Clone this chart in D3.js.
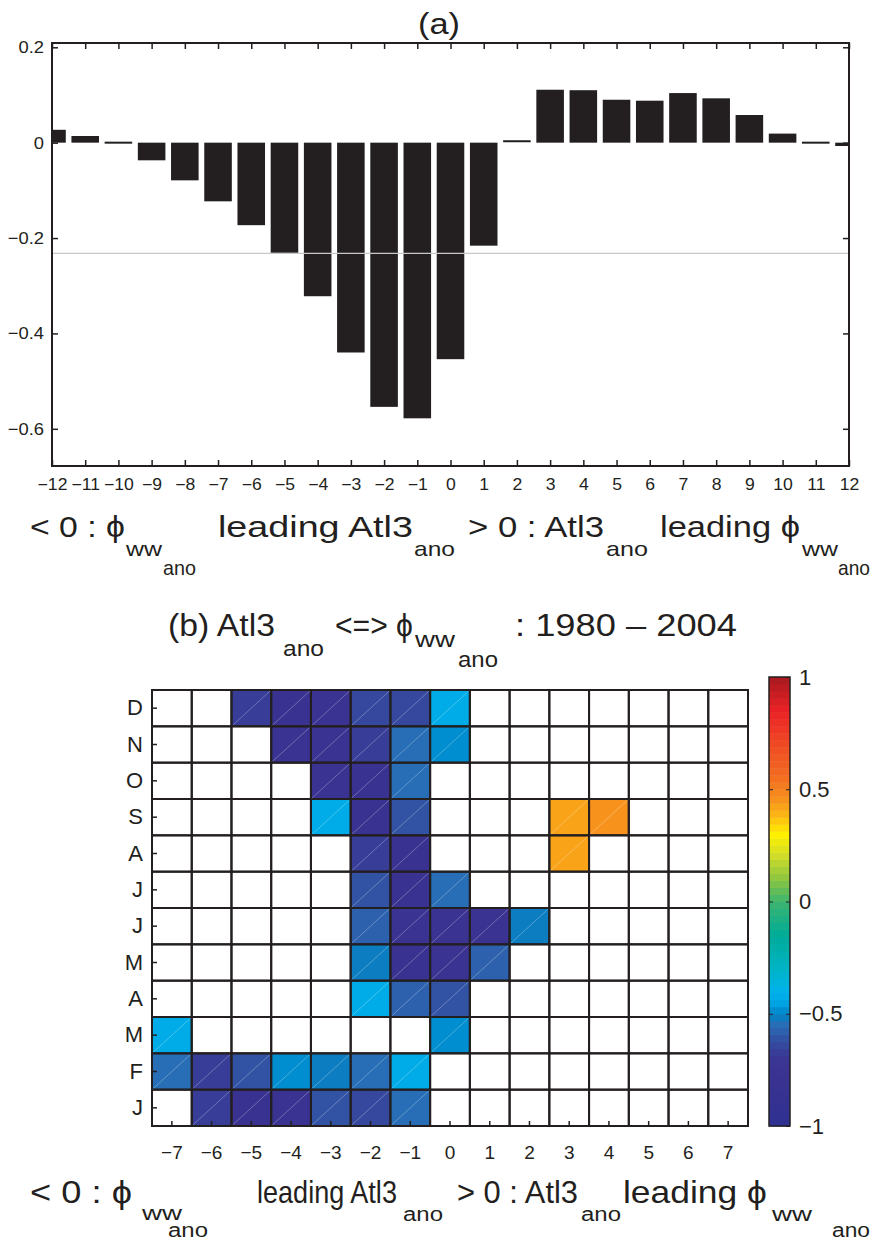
<!DOCTYPE html>
<html>
<head>
<meta charset="utf-8">
<script src="https://cdn.jsdelivr.net/npm/d3@7"></script>
<style>
  body { margin: 0; background: #fff; }
  svg text { font-family: "Liberation Sans", Arial, sans-serif; fill: #231f20; }
</style>
</head>
<body>
<script>
// ---- panel (a) data: lagged correlation ----
var lagsA = [-12, -11, -10, -9, -8, -7, -6, -5, -4, -3, -2, -1, 0,
             1, 2, 3, 4, 5, 6, 7, 8, 9, 10, 11, 12];
var corrA = [0.027, 0.014, -0.003, -0.037, -0.079, -0.123, -0.173, -0.231, -0.322, -0.440, -0.554, -0.578, -0.454,
             -0.216, 0.003, 0.111, 0.110, 0.090, 0.088, 0.104, 0.093, 0.058, 0.019, -0.002, -0.007];
var signifA = -0.232;
var yTicksA = [-0.6, -0.4, -0.2, 0, 0.2];

// ---- panel (b) data: monthly lagged correlation (null = not significant) ----
var lagsB = [-7, -6, -5, -4, -3, -2, -1, 0, 1, 2, 3, 4, 5, 6, 7];
var months = ["J", "F", "M", "A", "M", "J", "J", "A", "S", "O", "N", "D"];
var _ = null;
var jan = [_, -0.68, -0.8, -0.78, -0.6, -0.63, -0.55, _, _, _, _, _, _, _, _];
var feb = [-0.55, -0.68, -0.6, -0.5, -0.53, -0.55, -0.42, _, _, _, _, _, _, _, _];
var mar = [-0.42, _, _, _, _, _, _, -0.5, _, _, _, _, _, _, _];
var apr = [_, _, _, _, _, -0.42, -0.57, -0.61, _, _, _, _, _, _, _];
var may = [_, _, _, _, _, -0.53, -0.8, -0.78, -0.57, _, _, _, _, _, _];
var jun = [_, _, _, _, _, -0.57, -0.78, -0.78, -0.78, -0.53, _, _, _, _, _];
var jul = [_, _, _, _, _, -0.62, -0.8, -0.55, _, _, _, _, _, _, _];
var aug = [_, _, _, _, _, -0.68, -0.8, _, _, _, 0.43, _, _, _, _];
var sep = [_, _, _, _, -0.42, -0.8, -0.61, _, _, _, 0.42, 0.46, _, _, _];
var oct = [_, _, _, _, -0.76, -0.8, -0.56, _, _, _, _, _, _, _, _];
var nov = [_, _, _, -0.78, -0.78, -0.68, -0.54, -0.5, _, _, _, _, _, _, _];
var dec = [_, _, -0.68, -0.8, -0.78, -0.63, -0.64, -0.42, _, _, _, _, _, _, _];
var corrB = [jan, feb, mar, apr, may, jun, jul, aug, sep, oct, nov, dec];
var cbTicks = [-1, -0.5, 0, 0.5, 1];

// colormap stops
var cmapVals = [-1, -0.8, -0.7, -0.65, -0.6, -0.55, -0.5, -0.45, -0.4, -0.3, -0.15, 0,
                0.1, 0.2, 0.3, 0.38, 0.45, 0.55, 0.7, 0.85, 1];
var cmapCols = ["#2e3192", "#3a3290", "#3b3593", "#36449c", "#3157a6", "#2a6db5", "#0084c8", "#00a5e3",
                "#00b2ec", "#00b4c6", "#00ab98", "#3db56f", "#8cc540", "#cddb2a", "#fff200", "#fdb913",
                "#f7941d", "#f36f21", "#ef4a24", "#ec2227", "#a6191e"];

let W = 873, H = 1244;
let ink = "#231f20";
let minus = function(s) { return String(s).replace("-", "\u2212"); };

let svg = d3.select("body").append("svg")
  .attr("width", W).attr("height", H);

// label made of several pieces, each scaled sideways to the measured width
function drawLabel(segs) {
  svg.append("g").selectAll("text")
    .data(segs)
    .enter()
    .append("text")
    .attr("font-size", d => d[4])
    .text(d => d[0])
    .attr("transform", function(d) {
      let w0 = this.getComputedTextLength();
      return "translate(" + d[1] + "," + d[3] + ") scale(" + (d[2] / w0) + ",1)";
    });
}

//==== panel (a) ====//
let a = { l: 52, r: 849, t: 43, b: 466 };

let xA = d3.scaleLinear().domain([-12, 12]).range([a.l, a.r]);
let yA = d3.scaleLinear().domain([-0.678, 0.209]).range([a.b, a.t]);
let bw = (xA(1) - xA(0)) * 0.83;

svg.append("clipPath").attr("id", "clipA")
  .append("rect")
  .attr("x", a.l).attr("y", a.t)
  .attr("width", a.r - a.l).attr("height", a.b - a.t);

svg.append("g").attr("clip-path", "url(#clipA)")
  .selectAll("rect")
  .data(lagsA)
  .enter()
  .append("rect")
  .attr("x", d => xA(d) - bw / 2)
  .attr("width", bw)
  .attr("y", (d, i) => Math.min(yA(corrA[i]), yA(0)) - (Math.abs(corrA[i]) < 0.005 ? 1 : 0))
  .attr("height", (d, i) => Math.max(Math.abs(yA(corrA[i]) - yA(0)), 2))
  .attr("fill", ink);

svg.append("line")
  .attr("x1", a.l).attr("x2", a.r)
  .attr("y1", yA(signifA)).attr("y2", yA(signifA))
  .attr("stroke", "#c8c8c8").attr("stroke-width", 1.2);

let fmtA = d => d === 0 ? "0" : d3.format(".1f")(d);

let axA = [];
axA.push(svg.append("g").attr("transform", "translate(" + a.l + ",0)")
  .call(d3.axisLeft(yA).tickValues(yTicksA).tickFormat(fmtA).tickSizeInner(-6).tickSizeOuter(0).tickPadding(8)));
axA.push(svg.append("g").attr("transform", "translate(" + a.r + ",0)")
  .call(d3.axisRight(yA).tickValues(yTicksA).tickFormat("").tickSizeInner(-6).tickSizeOuter(0)));
axA.push(svg.append("g").attr("transform", "translate(0," + a.b + ")")
  .call(d3.axisBottom(xA).ticks(24).tickFormat(d => minus(d)).tickSizeInner(-6).tickSizeOuter(0).tickPadding(13)));
axA.push(svg.append("g").attr("transform", "translate(0," + a.t + ")")
  .call(d3.axisTop(xA).ticks(24).tickFormat("").tickSizeInner(-6).tickSizeOuter(0)));

axA.forEach(function(g) {
  g.select(".domain").remove();
  g.selectAll(".tick line").attr("stroke", ink).attr("stroke-width", 1.5);
  g.selectAll(".tick text")
    .attr("fill", ink).attr("font-family", null);
});
// reference text is a little wide
axA[0].selectAll(".tick text").attr("font-size", 17)
  .attr("transform", "scale(1.08,1)").attr("x", -8 / 1.08);
axA[2].selectAll(".tick text").attr("font-size", 16)
  .attr("transform", "scale(1.1,1)");

svg.append("rect")
  .attr("x", a.l).attr("y", a.t)
  .attr("width", a.r - a.l).attr("height", a.b - a.t)
  .attr("fill", "none").attr("stroke", ink).attr("stroke-width", 2);

drawLabel([["(a)", 418, 42, 34, 29]]);

drawLabel([
  ["< 0 : \u03d5", 30, 95, 537, 29],
  ["ww", 126, 36, 556, 20],
  ["ano", 163, 33, 575, 20],
  ["leading  Atl3", 218, 195, 537, 29],
  ["ano", 414, 41, 556, 20],
  ["> 0 : Atl3", 468, 136, 537, 29],
  ["ano", 606, 42, 556, 20],
  ["leading \u03d5", 660, 140, 537, 29],
  ["ww", 802, 36, 556, 20],
  ["ano", 838, 32, 575, 20]
]);

//==== panel (b) ====//
let b = { l: 152, r: 748, t: 690, b: 1126 };

let xB = d3.scaleBand().domain(lagsB).range([b.l, b.r]);
let yB = d3.scaleBand().domain(d3.range(months.length)).range([b.b, b.t]);

// discrete 64-level colormap like the colorbar
let cInterp = d3.scaleLinear().domain(cmapVals).range(cmapCols).interpolate(d3.interpolateRgb);
let nLev = 64;
let color = function(v) {
  let k = Math.min(nLev - 1, Math.floor((v + 1) / 2 * nLev));
  return cInterp(-1 + (k + 0.5) * 2 / nLev);
};

let cells = [];
corrB.forEach(function(row, i) {
  row.forEach(function(v, j) {
    cells.push({ m: i, lag: lagsB[j], v: v });
  });
});

let gB = svg.append("g");
gB.selectAll("rect")
  .data(cells)
  .enter()
  .append("rect")
  .attr("x", d => xB(d.lag))
  .attr("y", d => yB(d.m))
  .attr("width", xB.bandwidth())
  .attr("height", yB.bandwidth())
  .attr("fill", d => d.v === null ? "#fff" : color(d.v));

// faint diagonal seam of each coloured cell
gB.selectAll("line.seam")
  .data(cells.filter(d => d.v !== null))
  .enter()
  .append("line")
  .attr("class", "seam")
  .attr("x1", d => xB(d.lag)).attr("y1", d => yB(d.m) + yB.bandwidth())
  .attr("x2", d => xB(d.lag) + xB.bandwidth()).attr("y2", d => yB(d.m))
  .attr("stroke", "#fff").attr("stroke-opacity", 0.35).attr("stroke-width", 0.8);

gB.selectAll("rect.grid")
  .data(cells)
  .enter()
  .append("rect")
  .attr("class", "grid")
  .attr("x", d => xB(d.lag))
  .attr("y", d => yB(d.m))
  .attr("width", xB.bandwidth())
  .attr("height", yB.bandwidth())
  .attr("fill", "none")
  .attr("stroke", ink).attr("stroke-width", 2);

let axL = svg.append("g").attr("transform", "translate(" + b.l + ",0)")
  .call(d3.axisLeft(yB).tickFormat(i => months[i]).tickSizeInner(-5).tickSizeOuter(0).tickPadding(9));
let axB = svg.append("g").attr("transform", "translate(0," + b.b + ")")
  .call(d3.axisBottom(xB).tickFormat(d => minus(d)).tickSizeInner(-5).tickSizeOuter(0).tickPadding(20));
[axL, axB].forEach(function(g) {
  g.select(".domain").remove();
  g.selectAll(".tick line").attr("stroke", ink).attr("stroke-width", 1.5);
  g.selectAll(".tick text").attr("fill", ink).attr("font-family", null);
});
axL.selectAll(".tick text").attr("font-size", 22);
axB.selectAll(".tick text")
  .attr("font-size", 19)
  .attr("font-family", "'Liberation Sans Narrow', 'Liberation Sans', sans-serif");

// colorbar
let cb = { l: 769, r: 790, t: 677, b: 1126 };
let yC = d3.scaleLinear().domain([-1, 1]).range([cb.b, cb.t]);
svg.append("g").selectAll("rect")
  .data(d3.range(nLev))
  .enter()
  .append("rect")
  .attr("x", cb.l)
  .attr("y", k => yC(-1 + (k + 1) * 2 / nLev))
  .attr("width", cb.r - cb.l)
  .attr("height", (cb.b - cb.t) / nLev + 0.5)
  .attr("fill", k => cInterp(-1 + (k + 0.5) * 2 / nLev));

let axC = svg.append("g").attr("transform", "translate(" + cb.r + ",0)")
  .call(d3.axisRight(yC).tickValues(cbTicks).tickFormat(d => minus(d)).tickSizeInner(-4).tickSizeOuter(0).tickPadding(9));
svg.append("g").attr("transform", "translate(" + cb.l + ",0)")
  .call(d3.axisLeft(yC).tickValues([-0.5, 0, 0.5]).tickFormat("").tickSizeInner(-4).tickSizeOuter(0))
  .select(".domain").remove();
axC.select(".domain").remove();
axC.selectAll(".tick text").attr("fill", ink).attr("font-family", null).attr("font-size", 22);
svg.selectAll(".tick line").attr("stroke", ink);

svg.append("rect")
  .attr("x", cb.l).attr("y", cb.t)
  .attr("width", cb.r - cb.l).attr("height", cb.b - cb.t)
  .attr("fill", "none").attr("stroke", ink).attr("stroke-width", 1.5);

drawLabel([
  ["(b) Atl3", 168, 107, 636, 32],
  ["ano", 283, 41, 656, 22],
  ["<=> \u03d5", 335, 78, 636, 32],
  ["ww", 415, 40, 647, 22],
  ["ano", 458, 40, 667, 22],
  [": 1980 \u2013 2004", 515, 222, 636, 32]
]);

drawLabel([
  ["< 0 : \u03d5", 30, 102, 1203, 32],
  ["ww", 142, 40, 1220, 21],
  ["ano", 168, 40, 1237, 20],
  ["leading Atl3", 257, 140, 1203, 32],
  ["ano", 403, 40, 1221, 21],
  ["> 0 : Atl3", 457, 121, 1203, 32],
  ["ano", 581, 40, 1221, 21],
  ["leading \u03d5", 623, 144, 1203, 32],
  ["ww", 772, 40, 1221, 21],
  ["ano", 832, 38, 1237, 20]
]);
</script>
</body>
</html>
